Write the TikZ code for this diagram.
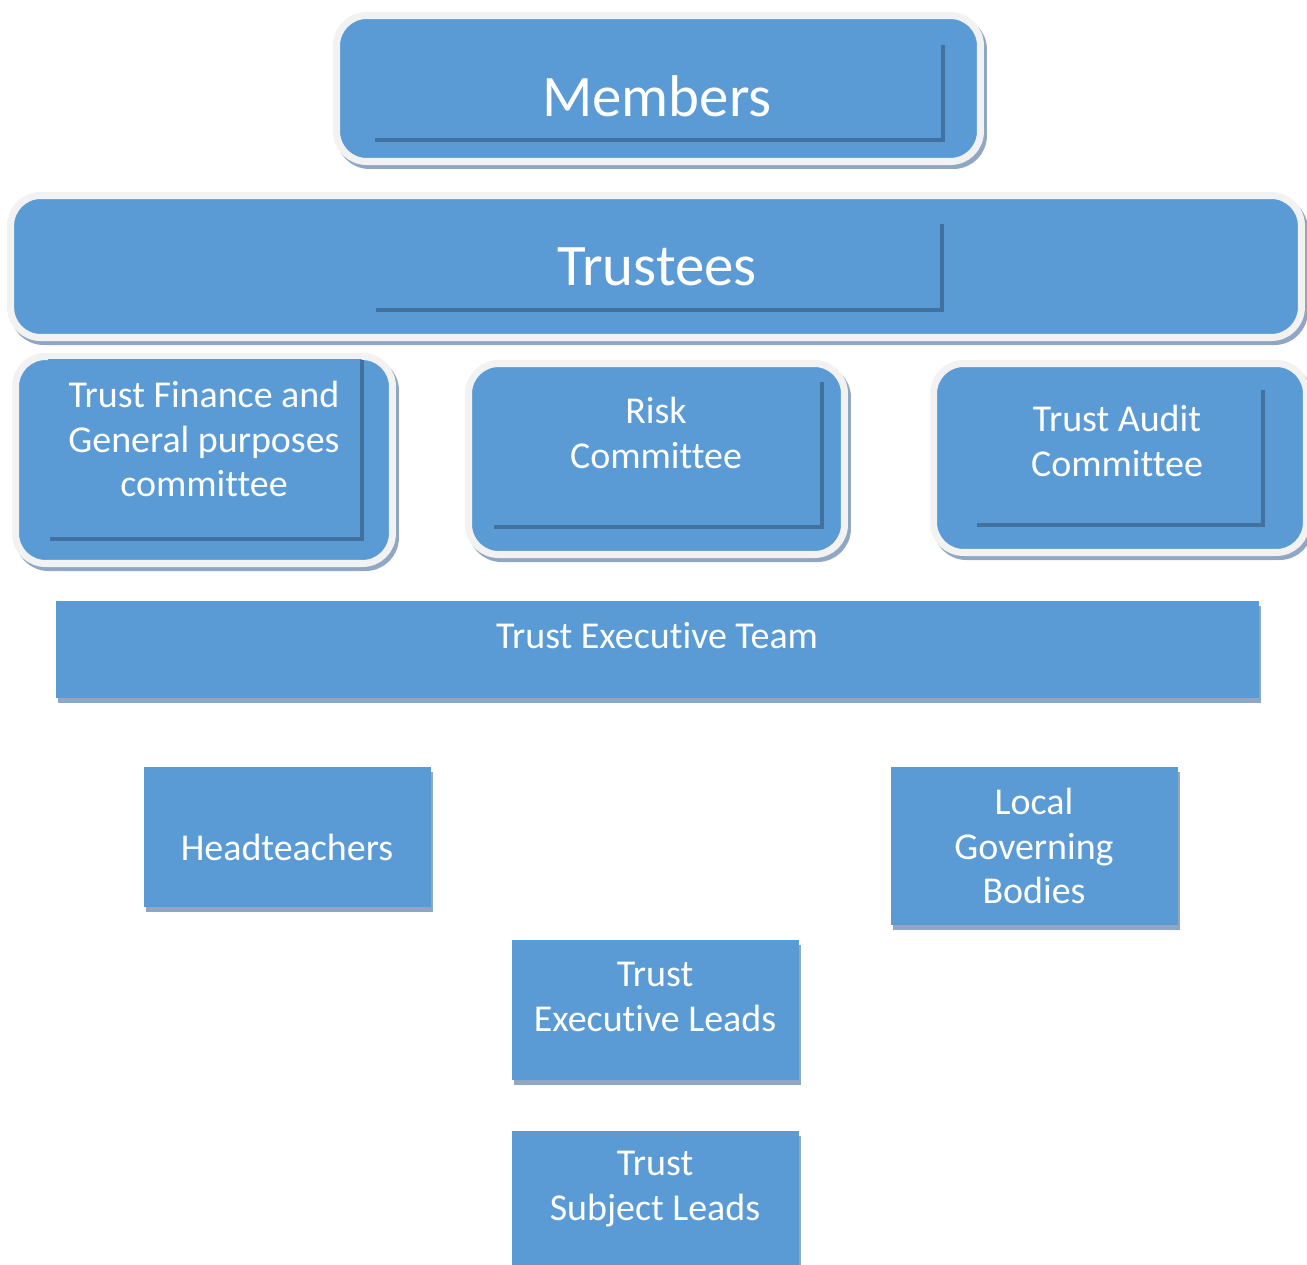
\documentclass[tikz,border=0pt]{standalone}
\usepackage{fontspec}
\setmainfont{Carlito}[Ligatures=NoCommon]
\usetikzlibrary{shadows}
\definecolor{boxblue}{HTML}{5B9BD5}
\definecolor{rimgrey}{HTML}{F2F2F2}
\definecolor{shadegrey}{HTML}{8FA7C4}
\definecolor{linedark}{HTML}{41719C}

\begin{document}
\begin{tikzpicture}[x=0.02cm, y=-0.02cm,
  roundbox/.style={draw=rimgrey, line width=4pt, fill=boxblue, rounded corners=0.6cm, inner sep=0pt, outer sep=0pt,
    drop shadow={shadow xshift=0.06cm, shadow yshift=-0.08cm, fill=shadegrey, draw=shadegrey, line width=4pt, opacity=1}},
  flatbox/.style={fill=boxblue, inner sep=0pt, outer sep=0pt,
    drop shadow={shadow xshift=0.04cm, shadow yshift=-0.1cm, fill=shadegrey, opacity=1}},
  rim/.style={draw=linedark, line width=2.3pt},
  big/.style={text=white, font=\fontsize{33.5}{40}\selectfont},
  caption/.style={text=white, align=center, font=\fontsize{21.6}{25.5}\selectfont}]
\useasboundingbox (0,0) rectangle (1307,1264);
\clip (0,0) rectangle (1307,1264);

% governance boxes
\node[roundbox, minimum width=12.88cm, minimum height=2.92cm] (members) at (658.5,88.5) {};
\node[roundbox, minimum width=25.82cm, minimum height=2.84cm] (trustees) at (656,266.5) {};
\node[roundbox, minimum width=7.54cm, minimum height=4.14cm] (finance) at (204,460) {};
\node[roundbox, minimum width=7.52cm, minimum height=3.82cm] (risk) at (656.5,459) {};
\node[roundbox, minimum width=7.46cm, minimum height=3.78cm] (audit) at (1120,458) {};
\fill[boxblue] (48,359) rectangle (362,539);

\draw[rim] (375,140) -- (943,140) -- (943,45);
\draw[rim] (376,310) -- (942,310) -- (942,224);
\draw[rim] (50,539) -- (362,539) -- (362,360);
\draw[rim] (494,527) -- (822,527) -- (822,382);
\draw[rim] (977,525) -- (1263,525) -- (1263,390);

\node[big] (members-t) at (657,96) {Members};
\node[big] (trustees-t) at (657,267) {Trustees};
\node[caption] (finance-t) at (204,439) {Trust Finance and\\General purposes\\committee};
\node[caption] (risk-t) at (656,433) {Risk\\Committee};
\node[caption] (audit-t) at (1117,441) {Trust Audit\\Committee};

% operational boxes
\node[flatbox, minimum width=24.06cm, minimum height=1.94cm] (exec) at (657.5,649.5) {};
\node[flatbox, minimum width=5.74cm, minimum height=2.8cm] (head) at (287.5,837) {};
\node[flatbox, minimum width=5.74cm, minimum height=3.16cm] (lgb) at (1034.5,846) {};
\node[flatbox, minimum width=5.74cm, minimum height=2.8cm] (leads) at (655.5,1010) {};
\node[flatbox, minimum width=5.74cm, minimum height=2.88cm] (subject) at (655.5,1203) {};

\node[caption] (exec-t) at (657,636) {Trust Executive Team};
\node[caption] (head-t) at (287,847) {Headteachers};
\node[caption] (lgb-t) at (1034,846) {Local\\Governing\\Bodies};
\node[caption] (leads-t) at (655,997) {Trust\\Executive Leads};
\node[caption] (subject-t) at (655,1189) {Trust\\Subject Leads};
\end{tikzpicture}
\end{document}
